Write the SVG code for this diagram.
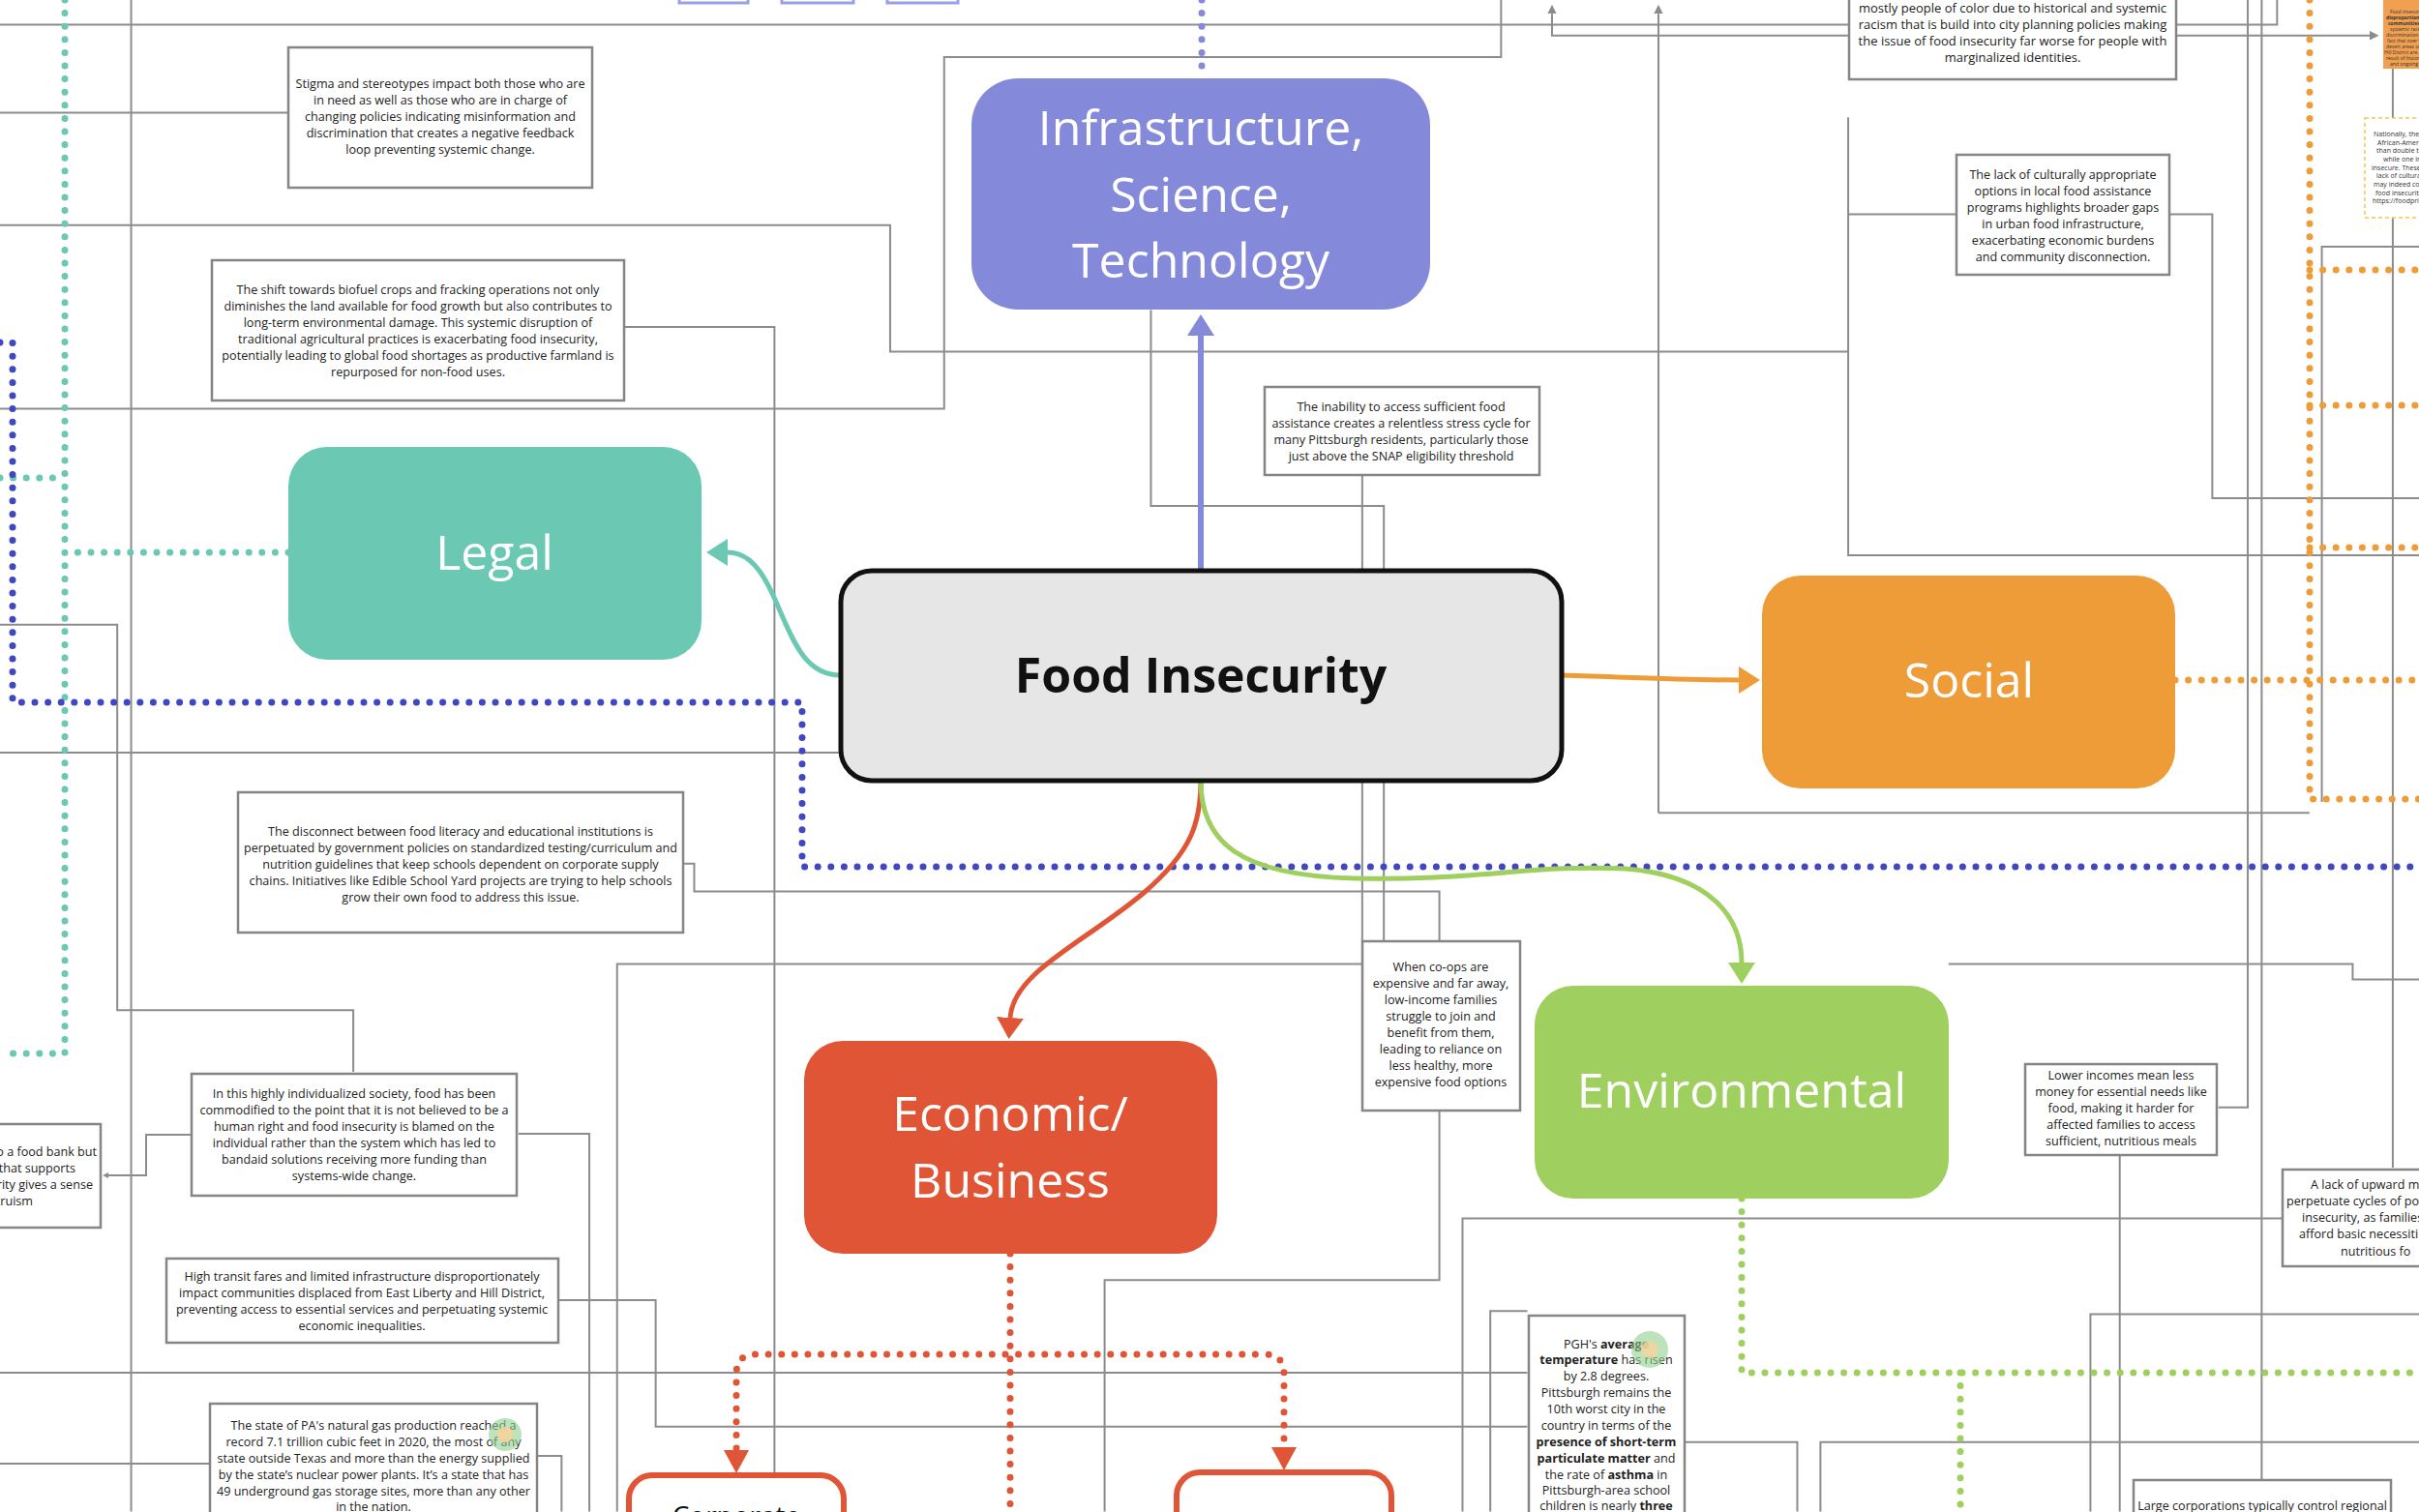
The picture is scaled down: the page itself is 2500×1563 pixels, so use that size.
<svg xmlns="http://www.w3.org/2000/svg" width="2500" height="1563" viewBox="0 0 2500 1563">
<style>
.tb rect{fill:#fff;stroke:#858585;stroke-width:2.5}
.tt{font-family:'Open Sans','Liberation Sans',sans-serif;font-size:12.6px;fill:#222;text-anchor:middle}
.t13{font-size:13px}
.big{font-family:'Open Sans','Liberation Sans',sans-serif;font-size:50px;fill:#fff;text-anchor:middle}
.g{fill:none;stroke:#8c8c8c;stroke-width:2;vector-effect:non-scaling-stroke}
.dot{fill:none;stroke-linecap:round;stroke-dasharray:0 13.6;stroke-width:7}
.b{font-weight:bold}
</style>
<defs>
<marker id="aBlue" markerUnits="userSpaceOnUse" viewBox="0 0 22 28" refX="0" refY="14" markerWidth="22" markerHeight="28" orient="auto"><path d="M0,0 L22,14 L0,28z" fill="#8489DA"/></marker>
<marker id="aTeal" markerUnits="userSpaceOnUse" viewBox="0 0 22 28" refX="0" refY="14" markerWidth="22" markerHeight="28" orient="auto"><path d="M0,0 L22,14 L0,28z" fill="#6AC8B3"/></marker>
<marker id="aOr" markerUnits="userSpaceOnUse" viewBox="0 0 22 28" refX="0" refY="14" markerWidth="22" markerHeight="28" orient="auto"><path d="M0,0 L22,14 L0,28z" fill="#EE9C38"/></marker>
<marker id="aRed" markerUnits="userSpaceOnUse" viewBox="0 0 22 28" refX="0" refY="14" markerWidth="22" markerHeight="28" orient="auto"><path d="M0,0 L22,14 L0,28z" fill="#E05535"/></marker>
<marker id="aGr" markerUnits="userSpaceOnUse" viewBox="0 0 22 28" refX="0" refY="14" markerWidth="22" markerHeight="28" orient="auto"><path d="M0,0 L22,14 L0,28z" fill="#9FCF5F"/></marker>
<marker id="aG" markerUnits="userSpaceOnUse" viewBox="0 0 10 10" refX="0" refY="5" markerWidth="6" markerHeight="6" orient="auto"><path d="M0,0 L10,5 L0,10z" fill="#8c8c8c"/></marker>
<marker id="aGs" markerUnits="userSpaceOnUse" viewBox="0 0 10 10" refX="0" refY="5" markerWidth="6" markerHeight="6" orient="auto-start-reverse"><path d="M0,0 L10,5 L0,10z" fill="#8c8c8c"/></marker>
</defs>
<rect width="2500" height="1563" fill="#fff"/>

<g id="connectors">
 <g transform="scale(1.5944)">
  <path class="g" d="M0,16 H1199"/>
  <path class="g" d="M1199,23 H1006 V9" marker-end="url(#aG)"/>
  <path class="g" d="M973,0 V37 H612 V265 H0"/>
  <path class="g" d="M0,73 H187"/>
  <path class="g" d="M0,146 H577 V228 H1198"/>
  <path class="g" d="M1198,76 V360 H1568"/>
  <path class="g" d="M1268,139 H1198"/>
  <path class="g" d="M1406,139 H1434 V323 H1568"/>
  <path class="g" d="M1410,16 H1476 V0"/>
  <path class="g" d="M1410,23 H1536" marker-end="url(#aG)"/>
  <path class="g" d="M1457,0 V718 H1438"/>
  <path class="g" d="M1466,0 V980"/>
  <path class="g" d="M1551,0 V757"/>
  <path class="g" d="M1075,527 V9" marker-end="url(#aG)"/>
  <path class="g" d="M1075,527 H1497"/>
  <path class="g" d="M1505,520 V160 H1568"/>
  <path class="g" d="M405,212 H502 V980"/>
  <path class="g" d="M0,405 H76 V655 H229 V695"/>
  <path class="g" d="M85,0 V980"/>
  <path class="g" d="M0,488 H545"/>
  <path class="g" d="M746,201 V328 H897 V610"/>
  <path class="g" d="M883,308 V610"/>
  <path class="g" d="M443,560 H450 V578 H933 V610"/>
  <path class="g" d="M400,980 V625 H883"/>
  <path class="g" d="M716,980 V830 H933 V719"/>
  <path class="g" d="M948,980 V790 H1480"/>
  <path class="g" d="M966,980 V850 H990"/>
  <path class="g" d="M1092,935 H1165 V980"/>
  <path class="g" d="M1180,980 V935 H1568"/>
  <path class="g" d="M1355,980 V852 H1568"/>
  <path class="g" d="M1374,748 V980"/>
  <path class="g" d="M1263,625 H1525 V635 H1568"/>
  <path class="g" d="M0,890 H990"/>
  <path class="g" d="M362,843 H425 V925 H990"/>
  <path class="g" d="M336,735 H382 V980"/>
  <path class="g" d="M136,949 H0"/>
  <path class="g" d="M348,944 H364 V980"/>
 </g>
 <path class="g" d="M198,1173 H151 V1215 H112" marker-end="url(#aG)" marker-start="url(#aGs)"/>

 <path class="dot" stroke="#6AC8B3" d="M67,0 V1089 H0"/>
 <path class="dot" stroke="#6AC8B3" d="M298,571 H75"/>
 <path class="dot" stroke="#6AC8B3" d="M0,494 H60"/>
 <path class="dot" stroke="#3F48C0" stroke-width="5" d="M0,354 H13 V726 H829 V896 H2500"/>
 <path class="dot" stroke="#8489DA" d="M1242,0 V81"/>
 <path class="dot" stroke="#EE9C38" d="M2248,703 H2500"/>
 <path class="dot" stroke="#EE9C38" d="M2387,0 V826 H2500"/>
 <path class="dot" stroke="#EE9C38" d="M2387,279 H2500 M2387,419 H2500 M2387,566 H2500"/>
 <path class="dot" stroke="#E05535" d="M1044,1296 V1563"/>
 <path class="dot" stroke="#E05535" d="M761,1497 V1420 Q761,1400 781,1400 H1307 Q1327,1400 1327,1420 V1494"/>
 <polygon points="748,1499 774,1499 761,1523" fill="#E05535"/>
 <polygon points="1314,1496 1340,1496 1327,1520" fill="#E05535"/>
 <path class="dot" stroke="#9FCF5F" d="M1800,1239 V1419 H2500"/>
 <path class="dot" stroke="#9FCF5F" d="M2026,1419 V1563"/>

 <path d="M1241,590 V347" stroke="#8489DA" stroke-width="6" fill="none" marker-end="url(#aBlue)"/>
 <path d="M869,698 C835,698 822,668 808,636 C794,602 780,571 752,571" stroke="#6AC8B3" stroke-width="5" fill="none" marker-end="url(#aTeal)"/>
 <path d="M1614,698 C1680,700 1740,703 1797,703" stroke="#EE9C38" stroke-width="5" fill="none" marker-end="url(#aOr)"/>
 <path d="M1241,807 C1241,850 1232,880 1182,923 C1120,975 1047,1005 1044,1052" stroke="#E05535" stroke-width="5" fill="none" marker-end="url(#aRed)"/>
 <path d="M1241,807 C1241,870 1280,905 1400,908 C1520,911 1590,893 1680,898 C1770,905 1800,950 1800,995" stroke="#9FCF5F" stroke-width="5" fill="none" marker-end="url(#aGr)"/>
</g>

<g id="top-boxes">
 <rect x="702" y="-20" width="71" height="23" fill="#fff" stroke="#9a9ee6" stroke-width="3"/>
 <rect x="808" y="-20" width="74" height="23" fill="#fff" stroke="#9a9ee6" stroke-width="3"/>
 <rect x="917" y="-20" width="73" height="23" fill="#fff" stroke="#9a9ee6" stroke-width="3"/>
</g>

<g id="infrastructure">
 <rect x="1004" y="81" width="474" height="239" rx="48" fill="#8489DA"/>
 <text class="big" x="1241" y="150">Infrastructure,</text>
 <text class="big" x="1241" y="219">Science,</text>
 <text class="big" x="1241" y="287">Technology</text>
</g>
<g id="food-insecurity">
 <rect x="869" y="590" width="745" height="217" rx="32" fill="#E6E6E6" stroke="#111" stroke-width="5"/>
 <text class="big" x="1241" y="716" style="fill:#111;font-weight:bold">Food Insecurity</text>
</g>
<g id="legal">
 <rect x="298" y="462" width="427" height="220" rx="40" fill="#6AC8B3"/>
 <text class="big" x="511" y="589">Legal</text>
</g>
<g id="social">
 <rect x="1821" y="595" width="427" height="220" rx="40" fill="#EE9C38"/>
 <text class="big" x="2035" y="721">Social</text>
</g>
<g id="economic">
 <rect x="831" y="1076" width="427" height="220" rx="40" fill="#E05535"/>
 <text class="big" x="1044" y="1169">Economic/</text>
 <text class="big" x="1044" y="1238">Business</text>
</g>
<g id="environmental">
 <rect x="1586" y="1019" width="428" height="220" rx="40" fill="#9FCF5F"/>
 <text class="big" x="1800" y="1145">Environmental</text>
</g>
<g id="corporate">
 <rect x="650" y="1525" width="222" height="100" rx="24" fill="#fff" stroke="#E05535" stroke-width="6"/>
 <text x="761" y="1577" style="font-family:'Open Sans',sans-serif;font-size:28px;fill:#111;text-anchor:middle">Corporate</text>
</g>
<g id="corporate-2">
 <rect x="1216" y="1522" width="222" height="100" rx="24" fill="#fff" stroke="#E05535" stroke-width="6"/>
</g>

<g id="stigma" class="tb">
 <rect x="298" y="49" width="314" height="145"/>
 <text class="tt" x="455" y="91">Stigma and stereotypes impact both those who are</text>
 <text class="tt" x="455" y="108">in need as well as those who are in charge of</text>
 <text class="tt" x="455" y="125">changing policies indicating misinformation and</text>
 <text class="tt" x="455" y="142">discrimination that creates a negative feedback</text>
 <text class="tt" x="455" y="159">loop preventing systemic change.</text>
</g>
<g id="biofuel" class="tb">
 <rect x="219" y="269" width="426" height="145"/>
 <text class="tt" x="432" y="304">The shift towards biofuel crops and fracking operations not only</text>
 <text class="tt" x="432" y="321">diminishes the land available for food growth but also contributes to</text>
 <text class="tt" x="432" y="338">long-term environmental damage. This systemic disruption of</text>
 <text class="tt" x="432" y="355">traditional agricultural practices is exacerbating food insecurity,</text>
 <text class="tt" x="432" y="372">potentially leading to global food shortages as productive farmland is</text>
 <text class="tt" x="432" y="389">repurposed for non-food uses.</text>
</g>
<g id="racism" class="tb">
 <rect x="1911" y="-20" width="338" height="102"/>
 <text class="tt t13" x="2080" y="13">mostly people of color due to historical and systemic</text>
 <text class="tt t13" x="2080" y="30">racism that is build into city planning policies making</text>
 <text class="tt t13" x="2080" y="47">the issue of food insecurity far worse for people with</text>
 <text class="tt t13" x="2080" y="64">marginalized identities.</text>
</g>
<g id="cultural" class="tb">
 <rect x="2022" y="160" width="220" height="124"/>
 <text class="tt" x="2132" y="185">The lack of culturally appropriate</text>
 <text class="tt" x="2132" y="202">options in local food assistance</text>
 <text class="tt" x="2132" y="219">programs highlights broader gaps</text>
 <text class="tt" x="2132" y="236">in urban food infrastructure,</text>
 <text class="tt" x="2132" y="253">exacerbating economic burdens</text>
 <text class="tt" x="2132" y="270">and community disconnection.</text>
</g>
<g id="inability" class="tb">
 <rect x="1307" y="400" width="284" height="91"/>
 <text class="tt" x="1448" y="425">The inability to access sufficient food</text>
 <text class="tt" x="1448" y="442">assistance creates a relentless stress cycle for</text>
 <text class="tt" x="1448" y="459">many Pittsburgh residents, particularly those</text>
 <text class="tt" x="1448" y="476">just above the SNAP eligibility threshold</text>
</g>
<g id="disconnect" class="tb">
 <rect x="246" y="819" width="460" height="145"/>
 <text class="tt" x="476" y="864">The disconnect between food literacy and educational institutions is</text>
 <text class="tt" x="476" y="881">perpetuated by government policies on standardized testing/curriculum and</text>
 <text class="tt" x="476" y="898">nutrition guidelines that keep schools dependent on corporate supply</text>
 <text class="tt" x="476" y="915">chains. Initiatives like Edible School Yard projects are trying to help schools</text>
 <text class="tt" x="476" y="932">grow their own food to address this issue.</text>
</g>
<g id="coops" class="tb">
 <rect x="1408" y="973" width="163" height="175"/>
 <text class="tt" x="1489" y="1004">When co-ops are</text>
 <text class="tt" x="1489" y="1021">expensive and far away,</text>
 <text class="tt" x="1489" y="1038">low-income families</text>
 <text class="tt" x="1489" y="1055">struggle to join and</text>
 <text class="tt" x="1489" y="1072">benefit from them,</text>
 <text class="tt" x="1489" y="1089">leading to reliance on</text>
 <text class="tt" x="1489" y="1106">less healthy, more</text>
 <text class="tt" x="1489" y="1123">expensive food options</text>
</g>
<g id="individualized" class="tb">
 <rect x="198" y="1110" width="336" height="126"/>
 <text class="tt" x="366" y="1135">In this highly individualized society, food has been</text>
 <text class="tt" x="366" y="1152">commodified to the point that it is not believed to be a</text>
 <text class="tt" x="366" y="1169">human right and food insecurity is blamed on the</text>
 <text class="tt" x="366" y="1186">individual rather than the system which has led to</text>
 <text class="tt" x="366" y="1203">bandaid solutions receiving more funding than</text>
 <text class="tt" x="366" y="1220">systems-wide change.</text>
</g>
<g id="foodbank" class="tb">
 <rect x="-10" y="1162" width="114" height="107"/>
 <text class="tt" style="text-anchor:end" x="100" y="1195">o a food bank but</text>
 <text class="tt" style="text-anchor:end" x="78" y="1212">that supports</text>
 <text class="tt" style="text-anchor:end" x="96" y="1229">rity gives a sense</text>
 <text class="tt" style="text-anchor:end" x="34" y="1246">truism</text>
</g>
<g id="transit" class="tb">
 <rect x="172" y="1301" width="405" height="87"/>
 <text class="tt" x="374" y="1324">High transit fares and limited infrastructure disproportionately</text>
 <text class="tt" x="374" y="1341">impact communities displaced from East Liberty and Hill District,</text>
 <text class="tt" x="374" y="1358">preventing access to essential services and perpetuating systemic</text>
 <text class="tt" x="374" y="1375">economic inequalities.</text>
</g>
<g id="gas" class="tb">
 <rect x="217" y="1451" width="338" height="130"/>
 <text class="tt" x="386" y="1478">The state of PA's natural gas production reached a</text>
 <text class="tt" x="386" y="1495">record 7.1 trillion cubic feet in 2020, the most of any</text>
 <text class="tt" x="386" y="1512">state outside Texas and more than the energy supplied</text>
 <text class="tt" x="386" y="1529">by the state’s nuclear power plants. It’s a state that has</text>
 <text class="tt" x="386" y="1546">49 underground gas storage sites, more than any other</text>
 <text class="tt" x="386" y="1562">in the nation.</text>
 <circle cx="522" cy="1483" r="17" fill="#8fd08f" opacity="0.6"/>
 <circle cx="522" cy="1483" r="8" fill="#f7d29a" opacity="0.9"/>
</g>
<g id="pgh" class="tb">
 <rect x="1580" y="1360" width="161" height="220"/>
 <text class="tt" x="1660" y="1394">PGH's <tspan class="b">average</tspan></text>
 <text class="tt" x="1660" y="1410"><tspan class="b">temperature</tspan> has risen</text>
 <text class="tt" x="1660" y="1427">by 2.8 degrees.</text>
 <text class="tt" x="1660" y="1444">Pittsburgh remains the</text>
 <text class="tt" x="1660" y="1461">10th worst city in the</text>
 <text class="tt" x="1660" y="1478">country in terms of the</text>
 <text class="tt b" x="1660" y="1495">presence of short-term</text>
 <text class="tt" x="1660" y="1512"><tspan class="b">particulate matter</tspan> and</text>
 <text class="tt" x="1660" y="1529">the rate of <tspan class="b">asthma</tspan> in</text>
 <text class="tt" x="1660" y="1545">Pittsburgh-area school</text>
 <text class="tt" x="1660" y="1561">children is nearly <tspan class="b">three</tspan></text>
 <circle cx="1705" cy="1395" r="19" fill="#8fd08f" opacity="0.6"/>
 <circle cx="1705" cy="1395" r="9" fill="#f7d29a" opacity="0.8"/>
</g>
<g id="lower-incomes" class="tb">
 <rect x="2093" y="1100" width="198" height="94"/>
 <text class="tt" x="2192" y="1116">Lower incomes mean less</text>
 <text class="tt" x="2192" y="1133">money for essential needs like</text>
 <text class="tt" x="2192" y="1150">food, making it harder for</text>
 <text class="tt" x="2192" y="1167">affected families to access</text>
 <text class="tt" x="2192" y="1184">sufficient, nutritious meals</text>
</g>
<g id="upward" class="tb">
 <rect x="2359" y="1209" width="200" height="100"/>
 <text class="tt" style="text-anchor:start" x="2388" y="1229">A lack of upward m</text>
 <text class="tt" style="text-anchor:start" x="2363" y="1246">perpetuate cycles of po</text>
 <text class="tt" style="text-anchor:start" x="2379" y="1263">insecurity, as families</text>
 <text class="tt" style="text-anchor:start" x="2376" y="1280">afford basic necessiti</text>
 <text class="tt" style="text-anchor:start" x="2419" y="1298">nutritious fo</text>
</g>
<g id="corporations" class="tb">
 <rect x="2205" y="1530" width="266" height="60"/>
 <text class="tt" x="2338" y="1561">Large corporations typically control regional</text>
</g>
<g id="orange-note">
 <rect x="2463" y="-10" width="60" height="81" fill="#F0A050"/>
 <g style="font-family:'Open Sans',sans-serif;font-size:5px;fill:#333">
  <text x="2470" y="14">Food insecuri</text>
  <text x="2466" y="20" font-weight="bold">disproportionate</text>
  <text x="2468" y="26" font-weight="bold">communities, w</text>
  <text x="2470" y="32">systemic racis</text>
  <text x="2466" y="38">discrimination. Th</text>
  <text x="2467" y="44">fact that over 90%</text>
  <text x="2466" y="50">desert areas such a</text>
  <text x="2464" y="56">Hill District are Afri</text>
  <text x="2466" y="62">result of historical p</text>
  <text x="2470" y="68">and ongoing eco</text>
 </g>
</g>
<g id="national-note">
 <rect x="2444" y="122" width="80" height="103" fill="#fff" stroke="#F2C84B" stroke-width="1.5" stroke-dasharray="4 3"/>
 <g style="font-family:'Open Sans',sans-serif;font-size:7px;fill:#333">
  <text x="2453" y="141">Nationally, the ra</text>
  <text x="2457" y="150">African-Americ</text>
  <text x="2456" y="158">than double th</text>
  <text x="2463" y="167">while one in</text>
  <text x="2451" y="176">insecure.  These</text>
  <text x="2456" y="184">lack of culturall</text>
  <text x="2453" y="193">may indeed con</text>
  <text x="2455" y="202">food insecurity</text>
  <text x="2452" y="210">https://foodprin</text>
 </g>
</g>
</svg>
